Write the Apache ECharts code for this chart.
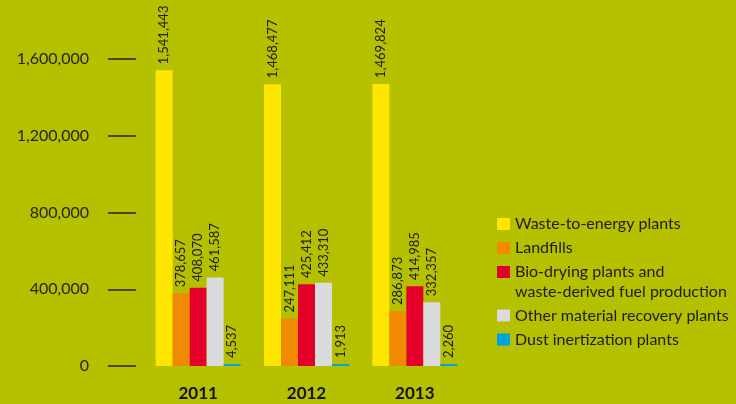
<!DOCTYPE html>
<html>
<head>
<meta charset="utf-8">
<style>
  html, body { margin: 0; padding: 0; background: #b5c000; }
  #chart { width: 736px; height: 404px; }
</style>
<script src="https://cdn.jsdelivr.net/npm/echarts@6/dist/echarts.min.js"></script>
</head>
<body>
<div id="chart"></div>
<script>
// Waste treated by plant type, tonnes per year
const years = ['2011', '2012', '2013'];
const wasteToEnergy = [1541443, 1468477, 1469824];
const landfills = [378657, 247111, 286873];
const bioDrying = [408070, 425412, 414985];
const otherRecovery = [461587, 433310, 332357];
const dustInertization = [4537, 1913, 2260];

const seriesNames = [
  'Waste-to-energy plants',
  'Landfills',
  'Bio-drying plants and\nwaste-derived fuel production',
  'Other material recovery plants',
  'Dust inertization plants'
];
const seriesColors = ['#ffe600', '#f08a00', '#e4002b', '#d9dbdc', '#00a3e0'];
const seriesValues = [wasteToEnergy, landfills, bioDrying, otherRecovery, dustInertization];

const yTicks = [0, 400000, 800000, 1200000, 1600000];

const FONT = 'Lato, "Open Sans", sans-serif';
const fmt = v => v.toLocaleString('en-US');

const chart = echarts.init(document.getElementById('chart'));

// one legend block per entry; the two-line entry gets an empty leading line
// so its swatch sits beside the first line of text
const legendCenters = [224, 248, 272, 315.5, 339.5];
const legends = seriesNames.map((name, i) => {
  const twoLine = name.indexOf('\n') >= 0;
  return {
    data: [name],
    left: 497,
    top: twoLine ? legendCenters[i] - 30 : legendCenters[i] - 10,
    padding: 0,
    itemWidth: 13,
    itemHeight: 12,
    icon: 'rect',
    selectedMode: false,
    formatter: n => (twoLine ? '\n' + n : n),
    textStyle: {
      fontFamily: FONT,
      fontSize: 16,
      lineHeight: 20,
      color: '#1c1c10'
    }
  };
});

chart.setOption({
  backgroundColor: '#b5c000',
  animation: false,
  legend: legends,
  grid: { left: 144, width: 325, top: 59, bottom: 38, containLabel: false },
  xAxis: {
    type: 'category',
    data: years,
    axisLine: { show: false },
    axisTick: { show: false },
    axisLabel: {
      margin: 19,
      fontFamily: FONT,
      fontSize: 17,
      fontWeight: 'bold',
      color: '#111'
    }
  },
  yAxis: {
    type: 'value',
    min: yTicks[0],
    max: yTicks[yTicks.length - 1],
    interval: yTicks[1] - yTicks[0],
    offset: 8,
    axisLine: { show: false },
    axisTick: { show: true, length: 28, lineStyle: { color: '#24240f', width: 1.5 } },
    splitLine: { show: false },
    axisLabel: {
      margin: 47,
      fontFamily: FONT,
      fontSize: 16,
      color: '#24240f',
      formatter: v => fmt(v)
    }
  },
  series: seriesNames.map((name, i) => ({
    name: name,
    type: 'bar',
    data: seriesValues[i],
    barWidth: 17,
    barGap: '0%',
    barMinHeight: 2,
    itemStyle: { color: seriesColors[i] },
    label: {
      show: true,
      position: 'top',
      rotate: 90,
      align: 'left',
      verticalAlign: 'middle',
      distance: 6,
      fontFamily: FONT,
      fontSize: 13,
      color: '#1c1c10',
      formatter: p => fmt(p.value)
    }
  }))
});
</script>
</body>
</html>
